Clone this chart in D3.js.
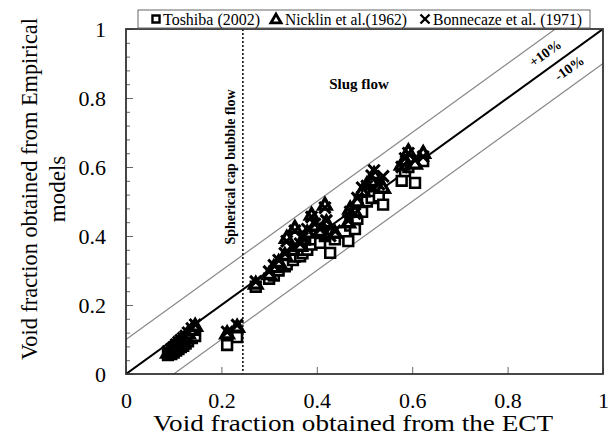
<!DOCTYPE html>
<html><head><meta charset="utf-8">
<script src="https://cdn.jsdelivr.net/npm/d3@7"></script>
<style>body{margin:0;background:#fff}svg{display:block}</style>
</head><body>
<svg id="c" width="614" height="440"></svg>
<script>
const ect = [0.088,0.095,0.100,0.105,0.110,0.115,0.120,0.125,0.130,0.138,0.145,
  0.212,0.233,
  0.272,0.300,0.310,0.320,0.333,0.337,0.350,0.354,0.365,0.370,0.380,0.389,0.396,0.407,0.417,0.420,0.428,0.438,
  0.466,0.470,0.480,0.485,0.495,0.505,0.515,0.520,0.530,0.539,0.578,0.585,0.592,0.606,0.623];
const toshiba = [0.055,0.058,0.062,0.068,0.072,0.078,0.082,0.088,0.095,0.104,0.110,
  0.084,0.107,
  0.253,0.276,0.285,0.300,0.312,0.318,0.330,0.340,0.341,0.350,0.360,0.375,0.390,0.380,0.400,0.405,0.351,0.390,
  0.385,0.430,0.420,0.450,0.470,0.500,0.510,0.530,0.515,0.491,0.560,0.588,0.600,0.554,0.617];
const nicklin = [0.062,0.068,0.075,0.082,0.088,0.095,0.100,0.108,0.118,0.128,0.140,
  0.118,0.137,
  0.262,0.290,0.310,0.325,0.345,0.395,0.360,0.424,0.372,0.390,0.410,0.462,0.430,0.415,0.491,0.440,0.410,0.410,
  0.440,0.480,0.470,0.500,0.530,0.550,0.560,0.580,0.545,0.540,0.607,0.620,0.646,0.610,0.641];
const bonnecaze = [0.065,0.072,0.078,0.085,0.092,0.098,0.104,0.110,0.120,0.132,0.143,
  0.122,0.142,
  0.268,0.297,0.315,0.330,0.350,0.385,0.365,0.415,0.378,0.395,0.420,0.455,0.435,0.420,0.482,0.445,0.400,0.415,
  0.445,0.470,0.465,0.510,0.540,0.545,0.575,0.590,0.550,0.573,0.600,0.625,0.640,0.620,0.630];
const seriesNames = ["Toshiba (2002)","Nicklin et al.(1962)","Bonnecaze et al. (1971)"];
const majorTicks = [0,0.2,0.4,0.6,0.8,1];
const minorTicksY = d3.range(0,1.0001,0.04);
const regimeBoundary = 0.245;
const bandOffsets = [0.1,-0.1];

const svg = d3.select("#c");
const x = d3.scaleLinear().domain([0,1]).range([126,603]);
const y = d3.scaleLinear().domain([0,1]).range([374,29]);
const serif = "'Liberation Serif','Times New Roman',serif";
const fmt = d => String(+d.toFixed(1));

svg.append("clipPath").attr("id","clip").append("rect")
  .attr("x",x(0)).attr("y",y(1)).attr("width",x(1)-x(0)).attr("height",y(0)-y(1));

// minor y ticks
svg.append("g").attr("transform",`translate(${x(0)},0)`)
  .call(d3.axisLeft(y).tickValues(minorTicksY).tickSize(-4).tickFormat(""))
  .call(g=>g.select(".domain").remove())
  .call(g=>g.selectAll("line").attr("stroke","#666"));
// major y axis
svg.append("g").attr("transform",`translate(${x(0)},0)`)
  .call(d3.axisLeft(y).tickValues(majorTicks).tickSizeInner(-7).tickSizeOuter(0).tickPadding(20).tickFormat(fmt))
  .call(g=>g.select(".domain").remove())
  .call(g=>g.selectAll("line").attr("stroke","#666"))
  .call(g=>g.selectAll("text").attr("font-family",serif).attr("font-size",22).attr("fill","#000"));
// x axis
svg.append("g").attr("transform",`translate(0,${y(0)})`)
  .call(d3.axisBottom(x).tickValues(majorTicks).tickSizeInner(-7).tickSizeOuter(0).tickPadding(18).tickFormat(fmt))
  .call(g=>g.select(".domain").remove())
  .call(g=>g.selectAll("line").attr("stroke","#666"))
  .call(g=>g.selectAll("text").attr("font-family",serif).attr("font-size",22).attr("fill","#000"));

const plot = svg.append("g").attr("clip-path","url(#clip)");
bandOffsets.forEach(o=>{
  plot.append("line").attr("x1",x(0)).attr("y1",y(0+o)).attr("x2",x(1)).attr("y2",y(1+o))
    .attr("stroke","#888").attr("stroke-width",1.2);
});
plot.append("line").attr("x1",x(0)).attr("y1",y(0)).attr("x2",x(1)).attr("y2",y(1))
  .attr("stroke","#000").attr("stroke-width",2);
svg.append("line").attr("x1",x(regimeBoundary)).attr("x2",x(regimeBoundary))
  .attr("y1",y(1)).attr("y2",y(0)).attr("stroke","#000").attr("stroke-width",1.5).attr("stroke-dasharray","2,2");

svg.append("rect").attr("x",x(0)).attr("y",y(1)).attr("width",x(1)-x(0)).attr("height",y(0)-y(1))
  .attr("fill","none").attr("stroke","#333").attr("stroke-width",1.8);

// markers
const sq = d3.symbol().type(d3.symbolSquare).size(95);
const tri = d3.symbol().type(d3.symbolTriangle).size(65);
const cross = d3.symbol().type(d3.symbolX).size(85);
const pts = (arr)=>ect.map((e,i)=>[e,arr[i]]);
svg.append("g").selectAll("path").data(pts(toshiba)).join("path")
  .attr("d",sq).attr("transform",d=>`translate(${x(d[0])},${y(d[1])})`)
  .attr("fill","#fff").attr("stroke","#000").attr("stroke-width",2.6);
svg.append("g").selectAll("path").data(pts(nicklin)).join("path")
  .attr("d",tri).attr("transform",d=>`translate(${x(d[0])},${y(d[1])+1})`)
  .attr("fill","#fff").attr("stroke","#000").attr("stroke-width",3.4).attr("stroke-linejoin","miter");
svg.append("g").selectAll("path").data(pts(bonnecaze)).join("path")
  .attr("d",cross).attr("transform",d=>`translate(${x(d[0])},${y(d[1])})`)
  .attr("fill","#000").attr("stroke","#000").attr("stroke-width",3);

// legend
const lg = svg.append("g");
lg.append("rect").attr("x",138).attr("y",10).attr("width",452).attr("height",18)
  .attr("fill","#fff").attr("stroke","#666").attr("stroke-width",1);
const legX = [[156,163,97],[276,285,122],[425,433,149]];
const legSym = [d3.symbol().type(d3.symbolSquare).size(50), d3.symbol().type(d3.symbolTriangle).size(45), d3.symbol().type(d3.symbolX).size(55)];
seriesNames.forEach((n,i)=>{
  lg.append("path").attr("d",legSym[i]).attr("transform",`translate(${legX[i][0]},${i==1?20:19})`)
    .attr("fill",i==2?"#000":"#fff").attr("stroke","#000").attr("stroke-width",i==1?2.8:2.4);
  lg.append("text").attr("x",legX[i][1]).attr("y",24.5).attr("font-family",serif).attr("font-size",16)
    .attr("fill","#000").attr("textLength",legX[i][2]).attr("lengthAdjust","spacingAndGlyphs").text(n);
});

// annotations
svg.append("text").attr("transform",`translate(235,167) rotate(-90)`).attr("text-anchor","middle")
  .attr("font-family",serif).attr("font-weight","bold").attr("font-size",14).text("Spherical cap bubble flow");
svg.append("text").attr("x",359).attr("y",89).attr("text-anchor","middle")
  .attr("font-family",serif).attr("font-weight","bold").attr("font-size",15).text("Slug flow");
const ang = -Math.atan((y(0)-y(1))/(x(1)-x(0)))*180/Math.PI;
svg.append("text").attr("transform",`translate(548,57) rotate(${ang})`).attr("text-anchor","middle")
  .attr("font-family",serif).attr("font-weight","bold").attr("font-size",14).text("+10%");
svg.append("text").attr("transform",`translate(572,72) rotate(${ang})`).attr("text-anchor","middle")
  .attr("font-family",serif).attr("font-weight","bold").attr("font-size",14).text("-10%");

// axis titles
svg.append("text").attr("x",353).attr("y",431).attr("text-anchor","middle")
  .attr("font-family",serif).attr("font-size",23).attr("fill","#000")
  .attr("textLength",400).attr("lengthAdjust","spacingAndGlyphs").text("Void fraction obtained from the ECT");
svg.append("text").attr("transform","translate(37,189) rotate(-90)").attr("text-anchor","middle")
  .attr("font-family",serif).attr("font-size",23).attr("fill","#000")
  .attr("textLength",342).attr("lengthAdjust","spacingAndGlyphs").text("Void fraction obtained from Empirical");
svg.append("text").attr("transform","translate(65,189) rotate(-90)").attr("text-anchor","middle")
  .attr("font-family",serif).attr("font-size",23).attr("fill","#000").text("models");
</script>
</body></html>
